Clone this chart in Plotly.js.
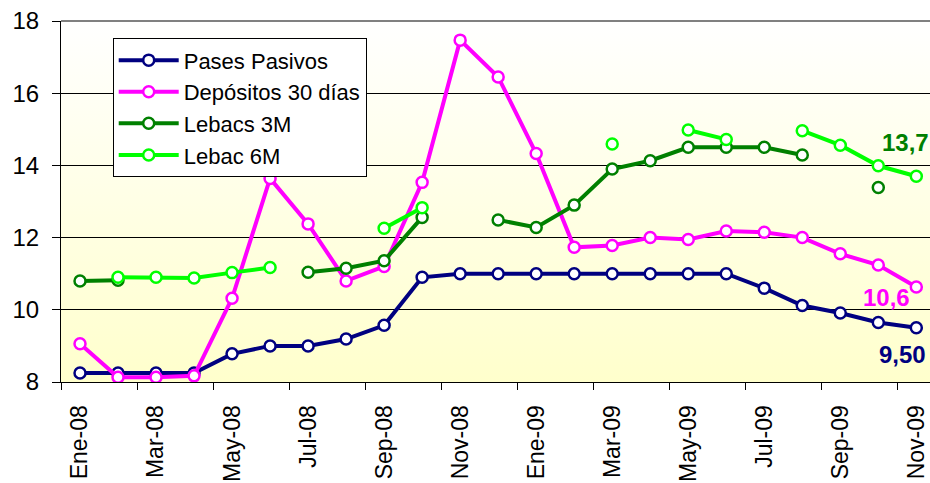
<!DOCTYPE html>
<html>
<head>
<meta charset="utf-8">
<script src="https://cdn.plot.ly/plotly-3.0.1.min.js"></script>
<style>
html,body{margin:0;padding:0;background:#fff;overflow:hidden;}
#chart{width:930px;height:483px;}
</style>
</head>
<body>
<div id="chart"></div>
<script>
// ---- data ----
const months = ["Ene-08","Feb-08","Mar-08","Abr-08","May-08","Jun-08","Jul-08","Ago-08","Sep-08","Oct-08","Nov-08","Dic-08",
                "Ene-09","Feb-09","Mar-09","Abr-09","May-09","Jun-09","Jul-09","Ago-09","Sep-09","Oct-09","Nov-09"];
const pasesPasivos = [8.25,8.25,8.25,8.25,8.78,9.0,9.0,9.19,9.57,10.9,11.0,11.0,11.0,11.0,11.0,11.0,11.0,11.0,10.6,10.12,9.91,9.65,9.5];
const depositos30 = [9.06,8.13,8.13,8.17,10.32,13.64,12.38,10.8,11.2,13.53,17.47,16.45,14.33,11.73,11.78,12.0,11.95,12.18,12.15,12.0,11.55,11.24,10.63];
const lebacs3M   = [10.8,10.82,null,null,null,null,11.04,11.15,11.36,12.56,null,12.49,12.28,12.9,13.9,14.13,14.5,14.5,14.5,14.29,null,13.39,null];
const lebac6M    = [null,10.9,10.9,10.88,11.03,11.17,null,null,12.26,12.83,null,null,null,null,14.59,null,14.98,14.72,null,14.96,14.56,13.99,13.7];
const seriesNames = ["Pases Pasivos","Depósitos 30 días","Lebacs 3M","Lebac 6M"];
const endLabels = ["9,50","10,6","13,7"];
const yTicks = [8,10,12,14,16,18];

// ---- styling ----
const colors = ["#000080","#FF00FF","#008000","#00FF00"];
const FONT = "Arial, 'Liberation Sans', sans-serif";
const seriesData = [pasesPasivos, depositos30, lebacs3M, lebac6M];
const idx = months.map((m,i)=>i);
const xRange = [-0.5, 22.36];

const traces = seriesData.map((ys,k)=>({
  type:"scatter", mode:"lines+markers", name:seriesNames[k],
  x: months, y: ys, connectgaps:false,
  line:{color:colors[k], width:4},
  marker:{symbol:"circle", size:11, color:"#FFFFFF", line:{color:colors[k], width:2.5}},
  hoverinfo:"skip"
}));

// boundary tick marks (between categories, every two months)
const boundaryTicks = idx.filter(i=>i%2===0).map(i=>i-0.5);
const labelTicks = months.filter((m,i)=>i%2===0);

const last = months.length-1;
const gradSvg = '<svg xmlns="http://www.w3.org/2000/svg" width="100" height="100" preserveAspectRatio="none">' +
  '<defs><linearGradient id="g" x1="0" y1="0" x2="0" y2="1">' +
  '<stop offset="0" stop-color="#FFFFFF"/><stop offset="1" stop-color="#FFFFCC"/></linearGradient></defs>' +
  '<rect width="100" height="100" fill="url(#g)"/></svg>';

const layout = {
  width:930, height:483,
  margin:{l:61, r:0, t:21, b:101, pad:0},
  paper_bgcolor:"#FFFFFF", plot_bgcolor:"rgba(0,0,0,0)",
  font:{family:FONT, color:"#000000", size:23},
  showlegend:true,
  legend:{x:0.0595, y:0.952, xanchor:"left", yanchor:"top",
          bgcolor:"#FFFFFF", bordercolor:"#000000", borderwidth:1,
          font:{family:FONT, size:22, color:"#000000"}, itemwidth:60, tracegroupgap:0},
  xaxis:{type:"category", range:xRange, tickmode:"array", tickvals:labelTicks, ticktext:labelTicks,
         tickangle:-90, ticks:"", ticklabelstandoff:13, showgrid:false, zeroline:false, showline:true, linecolor:"#000000", linewidth:1,
         tickfont:{family:FONT, size:23, color:"#000000"}, fixedrange:true},
  xaxis2:{overlaying:"x", anchor:"y", side:"bottom", type:"linear", range:xRange, tickmode:"array",
          tickvals:boundaryTicks, showticklabels:false, ticks:"outside", ticklen:7, tickcolor:"#000000", tickwidth:1,
          showgrid:false, zeroline:false, showline:false},
  yaxis:{range:[8,18], tickmode:"array", tickvals:yTicks, ticks:"outside", ticklen:8, tickcolor:"#000000",
         ticklabelstandoff:8,
         showgrid:true, gridcolor:"#000000", gridwidth:1, zeroline:false, showline:true, linecolor:"#000000", linewidth:1,
         tickfont:{family:FONT, size:24, color:"#000000"}, fixedrange:true},
  images:[{source:"data:image/svg+xml;charset=utf-8,"+encodeURIComponent(gradSvg), xref:"paper", yref:"paper",
           x:0, y:1, sizex:1, sizey:1, sizing:"stretch", layer:"below", xanchor:"left", yanchor:"top"}],
  shapes:[{type:"line", xref:"paper", yref:"paper", x0:0, x1:1, y0:1, y1:1, line:{color:"#808080", width:2}, layer:"above"}],
  annotations:[
    {x:months[last], y:pasesPasivos[last], text:"<b>"+endLabels[0]+"</b>", showarrow:false, xshift:-14, yshift:-27,
     font:{family:FONT, size:24, color:colors[0]}},
    {x:months[last], y:depositos30[last], text:"<b>"+endLabels[1]+"</b>", showarrow:false, xshift:-30, yshift:-10,
     font:{family:FONT, size:24, color:colors[1]}},
    {x:months[last], y:lebac6M[last], text:"<b>"+endLabels[2]+"</b>", showarrow:false, xshift:-11, yshift:34,
     font:{family:FONT, size:24, color:colors[2]}}
  ]
};

// dummy trace to activate xaxis2 for boundary ticks
traces.push({type:"scatter", mode:"none", x:[], y:[], xaxis:"x2", yaxis:"y", showlegend:false, hoverinfo:"skip"});

Plotly.newPlot("chart", traces, layout, {displayModeBar:false, staticPlot:true});
</script>
</body>
</html>
